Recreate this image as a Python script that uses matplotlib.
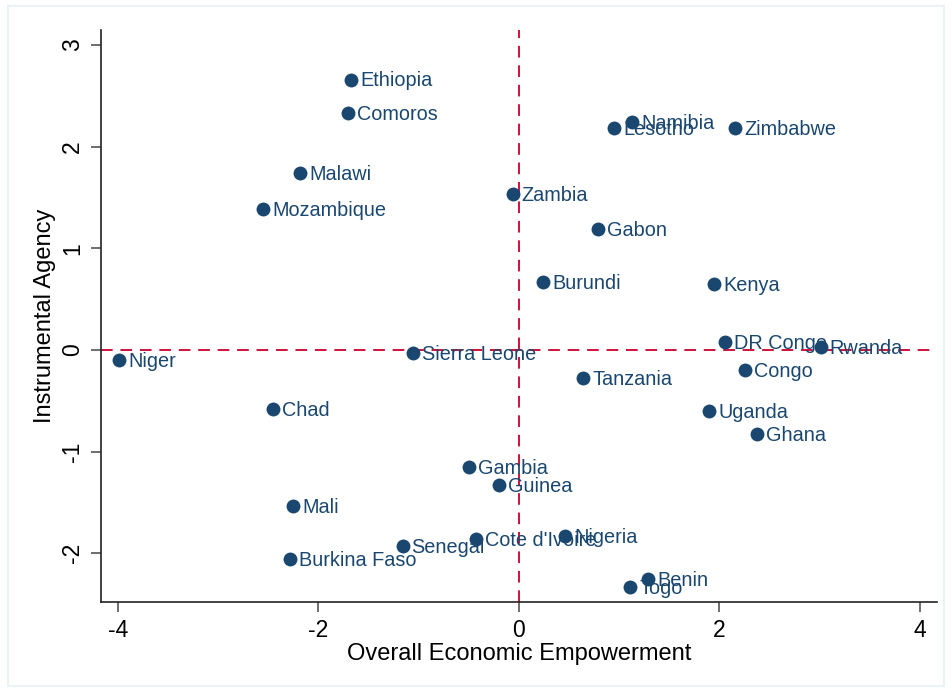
import matplotlib
matplotlib.use("Agg")
import matplotlib.pyplot as plt
from matplotlib.patches import Rectangle

countries = ["Niger", "Ethiopia", "Comoros", "Malawi", "Mozambique", "Zambia",
             "Namibia", "Lesotho", "Zimbabwe", "Gabon", "Burundi", "Kenya",
             "DR Congo", "Rwanda", "Congo", "Sierra Leone", "Tanzania", "Chad",
             "Uganda", "Ghana", "Gambia", "Guinea", "Mali", "Nigeria",
             "Cote d'Ivoire", "Senegal", "Burkina Faso", "Benin", "Togo"]
econ = [-3.99, -1.67, -1.70, -2.18, -2.55, -0.06,
        1.13, 0.95, 2.16, 0.79, 0.24, 1.95,
        2.06, 3.01, 2.26, -1.06, 0.64, -2.45,
        1.90, 2.38, -0.50, -0.20, -2.25, 0.46,
        -0.43, -1.16, -2.28, 1.29, 1.11]
agency = [-0.10, 2.66, 2.33, 1.74, 1.39, 1.53,
          2.24, 2.18, 2.18, 1.19, 0.67, 0.65,
          0.08, 0.03, -0.20, -0.03, -0.28, -0.58,
          -0.60, -0.83, -1.15, -1.33, -1.54, -1.83,
          -1.86, -1.93, -2.06, -2.25, -2.33]
xticks = [-4, -2, 0, 2, 4]
yticks = [-2, -1, 0, 1, 2, 3]

plt.rcParams['font.family'] = ['Liberation Sans', 'DejaVu Sans']

fig = plt.figure(figsize=(9.52, 6.92), dpi=100)
fig.patches.append(Rectangle((0.008, 0.008), 0.984, 0.984, transform=fig.transFigure,
                             fill=False, edgecolor='#eaf2f3', linewidth=1.5))
ax = fig.add_axes([0.106, 0.130, 0.878, 0.827])

navy = '#1a476f'
red = '#d0103a'

ax.axhline(0, color=red, linestyle=(0, (6, 4)), linewidth=1.4, zorder=1)
ax.axvline(0, color=red, linestyle=(0, (6, 4)), linewidth=1.4, zorder=1)

ax.scatter(econ, agency, s=100, color=navy, zorder=3, linewidths=0)
for name, x, y in zip(countries, econ, agency):
    ax.annotate(name, (x, y), xytext=(6.5, -1), textcoords='offset points',
                ha='left', va='center', fontsize=14.3, color=navy, zorder=4)

ax.set_xlim(-4.17, 4.17)
ax.set_ylim(-2.48, 3.15)
ax.set_xticks(xticks)
ax.set_yticks(yticks)
ax.set_xticklabels([str(t) for t in xticks], fontsize=16.5)
ax.set_yticklabels([str(t) for t in yticks], fontsize=16.5, rotation=90, va='center')
ax.tick_params(direction='out', length=7, width=1.2, color='#555555', pad=5)
ax.set_xlabel('Overall Economic Empowerment', fontsize=17, labelpad=1)
ax.set_ylabel('Instrumental Agency', fontsize=17, labelpad=4)

for s in ['top', 'right']:
    ax.spines[s].set_visible(False)
for s in ['left', 'bottom']:
    ax.spines[s].set_linewidth(1.2)
    ax.spines[s].set_color('#222222')

fig.savefig('out.png', dpi=100)
